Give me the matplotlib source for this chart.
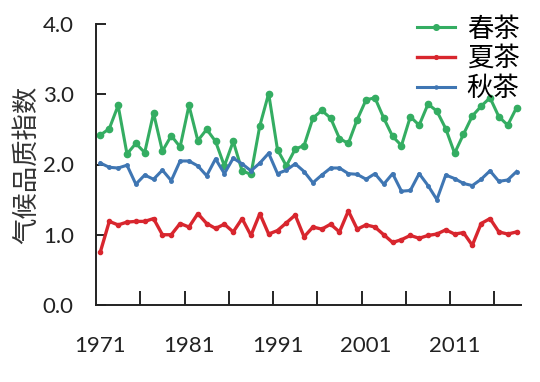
import matplotlib
matplotlib.use("Agg")
import matplotlib.pyplot as plt

years = list(range(1971, 2019))
spring = [2.42, 2.51, 2.84, 2.15, 2.30, 2.17, 2.73, 2.19, 2.41, 2.25,
          2.84, 2.34, 2.50, 2.33, 1.98, 2.33, 1.91, 1.86, 2.55, 3.01,
          2.21, 1.98, 2.22, 2.27, 2.66, 2.77, 2.66, 2.37, 2.30, 2.64,
          2.92, 2.95, 2.66, 2.40, 2.27, 2.68, 2.56, 2.86, 2.76, 2.51,
          2.16, 2.43, 2.69, 2.83, 2.95, 2.68, 2.56, 2.81]
summer = [0.76, 1.19, 1.14, 1.18, 1.19, 1.19, 1.23, 1.00, 1.00, 1.16,
          1.11, 1.30, 1.16, 1.09, 1.15, 1.04, 1.23, 0.99, 1.30, 1.01,
          1.06, 1.17, 1.28, 0.97, 1.11, 1.08, 1.15, 1.04, 1.34, 1.08,
          1.14, 1.11, 1.00, 0.89, 0.93, 0.99, 0.95, 0.99, 1.01, 1.07,
          1.01, 1.03, 0.85, 1.16, 1.23, 1.04, 1.01, 1.04]
autumn = [2.02, 1.96, 1.95, 1.99, 1.72, 1.85, 1.79, 1.92, 1.77, 2.05,
          2.05, 1.98, 1.84, 2.08, 1.87, 2.09, 2.01, 1.91, 2.02, 2.16,
          1.87, 1.92, 2.01, 1.90, 1.74, 1.85, 1.95, 1.95, 1.87, 1.86,
          1.79, 1.87, 1.72, 1.87, 1.62, 1.63, 1.87, 1.70, 1.50, 1.85,
          1.80, 1.73, 1.70, 1.79, 1.91, 1.76, 1.78, 1.90]
series_names = ["春茶", "夏茶", "秋茶"]
xtick_labels = [1971, 1981, 1991, 2001, 2011]
yticks = [0.0, 1.0, 2.0, 3.0, 4.0]

colors = ["#34ad62", "#d8262e", "#3f76b3"]
cjk = ["Noto Sans CJK SC", "DejaVu Sans"]
numfont = "Lato"

fig = plt.figure(figsize=(5.4, 3.82), dpi=100)
ax = fig.add_axes([96/540, 1-305/382, (521-96)/540, (305-24)/382])

ax.plot(years, spring, color=colors[0], lw=2.2, marker="o", ms=4.5, label=series_names[0])
ax.plot(years, summer, color=colors[1], lw=2.4, marker="o", ms=3, label=series_names[1])
ax.plot(years, autumn, color=colors[2], lw=2.2, marker="o", ms=2.5, label=series_names[2])

ax.set_xlim(1970.5, 2018.5)
ax.set_ylim(0, 4)
for s in ["top", "right"]:
    ax.spines[s].set_visible(False)
for s in ["left", "bottom"]:
    ax.spines[s].set_linewidth(1.4)
    ax.spines[s].set_color("#222222")

ax.set_yticks(yticks)
ax.set_yticklabels([f"{v:.1f}" for v in yticks], fontname=numfont, fontsize=16, color="#222222")
ax.tick_params(axis="y", direction="in", length=7, width=1.2, pad=16)

ax.set_xticks(xtick_labels)
ax.set_xticklabels([str(v) for v in xtick_labels], fontname=numfont, fontsize=16, color="#222222")
ax.set_xticks([y + 0.5 for y in range(1975, 2018, 5)], minor=True)
ax.tick_params(axis="x", which="major", length=0, pad=22)
ax.tick_params(axis="x", which="minor", direction="in", length=10, width=1.2)

ax.set_ylabel("气候品质指数", family=cjk, fontsize=19, color="#333333", labelpad=2)

leg = ax.legend(loc="upper right", frameon=False, prop={"family": cjk, "size": 19},
                handlelength=1.45, labelspacing=0.1, handletextpad=0.45, borderaxespad=0,
                markerscale=0.9)
leg.set_bbox_to_anchor((530/540, 1-5/382), transform=fig.transFigure)

fig.savefig("out.png", dpi=100)
